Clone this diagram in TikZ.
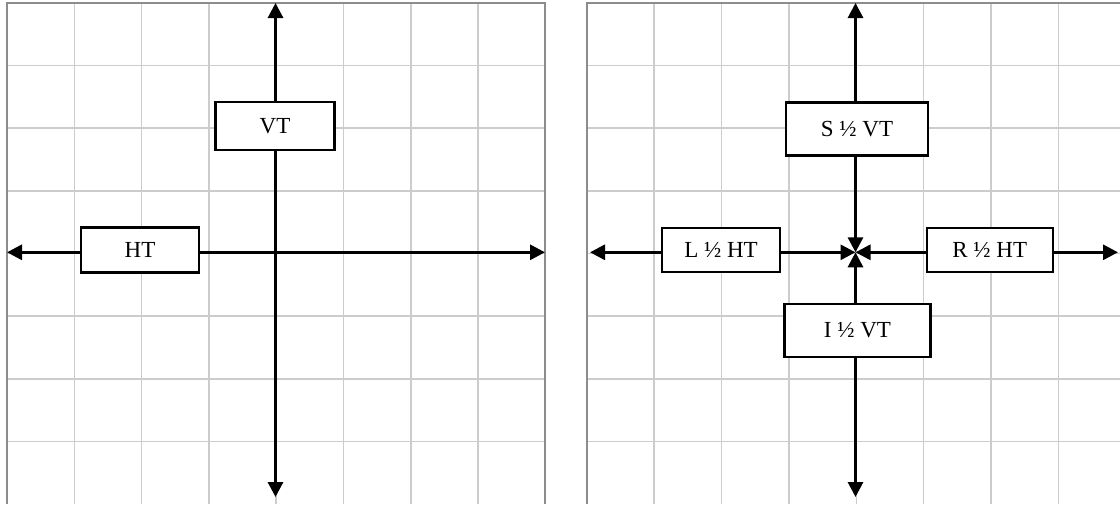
\documentclass[tikz,border=0pt]{standalone}
\usepackage{fontspec}
\setmainfont{Liberation Serif}
\usetikzlibrary{arrows.meta}
\tikzset{
  gridline/.style={draw=black!20, line width=1.5pt},
  gridborder/.style={draw=black!45, line width=2pt},
  axis/.style={line width=3pt, -{Triangle[length=15pt,width=15pt]}},
  tbox/.style={draw=black, fill=white, line width=2.2pt, inner sep=0pt, font=\fontsize{23}{26}\selectfont},
}
\begin{document}
\begin{tikzpicture}[x=1pt,y=-1pt]
\useasboundingbox (0,0) rectangle (1120,504);
\begin{scope}
\clip (0,0) rectangle (1120,504);
% left grid
\foreach \i in {1,...,7} {
  \draw[gridline] ({7+\i*67.3},2.7) -- ({7+\i*67.3},504.3);
  \draw[gridline] (7,{2.7+\i*62.7}) -- (545.4,{2.7+\i*62.7});
}
\draw[gridborder] (7,504.3) -- (7,2.7) -- (545.4,2.7) -- (545.4,504.3);
% right grid
\foreach \i in {1,...,7} {
  \draw[gridline] ({586.7+\i*67.4},2.7) -- ({586.7+\i*67.4},504.3);
  \draw[gridline] (586.7,{2.7+\i*62.7}) -- (1126,{2.7+\i*62.7});
}
\draw[gridborder] (586.7,504.3) -- (586.7,2.7) -- (1126,2.7);
\end{scope}

% ---------- left diagram ----------
\coordinate (ltop) at (275.5,3);
\coordinate (lbot) at (275.5,497);
\coordinate (lleft) at (7,252.3);
\coordinate (lright) at (545,252.3);
\node[tbox, minimum width=119pt, minimum height=48pt] (VT) at (275,126.3) {VT};
\node[tbox, minimum width=118.6pt, minimum height=45pt] (HT) at (140,250) {HT};
\draw[axis] (VT.north -| ltop) -- (ltop);
\draw[axis] (VT.south -| ltop) -- (lbot);
\draw[axis] (HT.west |- lleft) -- (lleft);
\draw[axis] (HT.east |- lleft) -- (lright);

% ---------- right diagram ----------
\coordinate (c) at (855.5,252.3);
\coordinate (rtop) at (855.5,3);
\coordinate (rbot) at (855.5,497);
\coordinate (rleft) at (590,252.3);
\coordinate (rright) at (1118,252.3);
\node[tbox, minimum width=141.7pt, minimum height=53pt] (S) at (857,129) {S ½ VT};
\node[tbox, minimum width=146pt, minimum height=53pt] (I) at (857.5,330.5) {I ½ VT};
\node[tbox, minimum width=118pt, minimum height=44pt] (L) at (721,250.3) {L ½ HT};
\node[tbox, minimum width=126pt, minimum height=43.5pt] (R) at (989.7,250) {R ½ HT};
\draw[axis] (S.north -| c) -- (rtop);
\draw[axis] (S.south -| c) -- (c);
\draw[axis] (I.south -| c) -- (rbot);
\draw[axis] (I.north -| c) -- (c);
\draw[axis] (L.west |- c) -- (rleft);
\draw[axis] (L.east |- c) -- (c);
\draw[axis] (R.east |- c) -- (rright);
\draw[axis] (R.west |- c) -- (c);
\end{tikzpicture}
\end{document}
